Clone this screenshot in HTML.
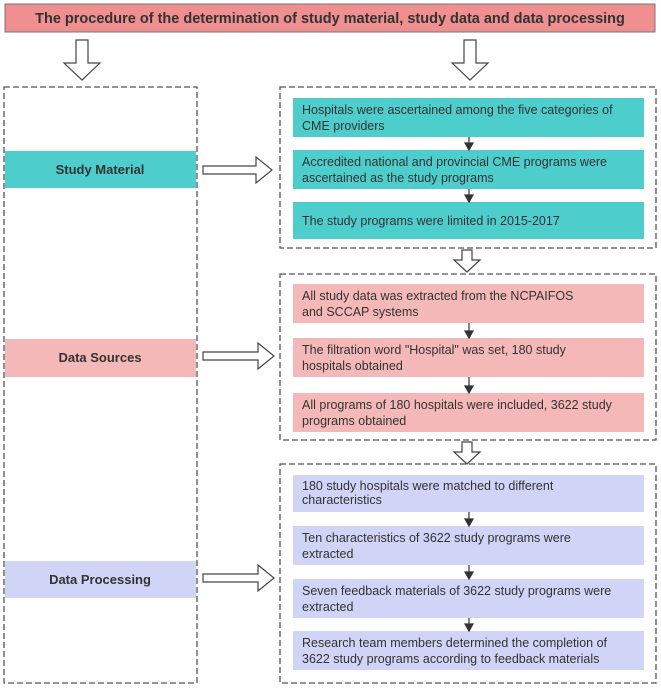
<!DOCTYPE html>
<html><head><meta charset="utf-8"><style>
body{margin:0;background:#fff}
svg text{font-family:"Liberation Sans","DejaVu Sans",sans-serif;fill:#333}
</style></head><body>
<svg width="661" height="687" viewBox="0 0 661 687" xmlns="http://www.w3.org/2000/svg">
<rect x="0" y="0" width="661" height="687" fill="#fff"/>
<rect x="5" y="4" width="650" height="28" fill="#ef8f8f" stroke="#777" stroke-width="1"/>
<text x="330" y="23" font-size="14.5" font-weight="bold" text-anchor="middle" fill="#222">The procedure of the determination of study material, study data and data processing</text>
<g fill="#fff" stroke="#444" stroke-width="1.2">
<path d="M76 40 H88 V63 H100 L82 80 L64 63 H76 Z"/>
<path d="M464 40 H476 V63 H488 L470 80 L452 63 H464 Z"/>
<path d="M462 250 H472 V260 H480 L467 272 L454 260 H462 Z"/>
<path d="M462 442 H472 V452 H480 L467 464 L454 452 H462 Z"/>
<path d="M203 165 H256 V157 H272 L256 184 V176 H203 Z" transform="translate(0,0)" visibility="hidden"/>
<path d="M203 166 H256 V157 L272 170 L256 183 V174 H203 Z"/>
<path d="M203 352 H258 V343 L274 356 L258 369 V360 H203 Z"/>
<path d="M203 574 H258 V565 L274 578 L258 591 V582 H203 Z"/>
</g>
<g fill="none" stroke="#555" stroke-width="1.3" stroke-dasharray="6,3">
<rect x="4" y="87" width="193" height="596"/>
<rect x="280" y="87" width="376" height="161"/>
<rect x="280" y="274" width="376" height="166"/>
<rect x="280" y="464" width="376" height="219"/>
</g>
<rect x="5" y="151" width="191" height="37" fill="#4ecdcd"/>
<text x="100" y="174" font-size="13" font-weight="bold" text-anchor="middle" fill="#222">Study Material</text>
<rect x="5" y="339" width="191" height="38" fill="#f4b8b8"/>
<text x="100" y="362" font-size="13" font-weight="bold" text-anchor="middle" fill="#222">Data Sources</text>
<rect x="5" y="561" width="191" height="37" fill="#d0d4f6"/>
<text x="100" y="584" font-size="13" font-weight="bold" text-anchor="middle" fill="#222">Data Processing</text>
<g font-size="12.5">
<rect x="293" y="98" width="351" height="39" fill="#4ecdcd"/>
<text x="302" y="114">Hospitals were ascertained among the five categories of</text>
<text x="302" y="130">CME providers</text>
<rect x="293" y="150" width="351" height="39" fill="#4ecdcd"/>
<text x="302" y="166">Accredited national and provincial CME programs were</text>
<text x="302" y="182">ascertained as the study programs</text>
<rect x="293" y="202" width="351" height="37" fill="#4ecdcd"/>
<text x="302" y="225">The study programs were limited in 2015-2017</text>

<rect x="293" y="284" width="351" height="39" fill="#f4b8b8"/>
<text x="302" y="300">All study data was extracted from the NCPAIFOS</text>
<text x="302" y="316">and SCCAP systems</text>
<rect x="293" y="338" width="351" height="39" fill="#f4b8b8"/>
<text x="302" y="354">The filtration word "Hospital" was set, 180 study</text>
<text x="302" y="370">hospitals obtained</text>
<rect x="293" y="393" width="351" height="39" fill="#f4b8b8"/>
<text x="302" y="409">All programs of 180 hospitals were included, 3622 study</text>
<text x="302" y="425">programs obtained</text>

<rect x="293" y="475" width="351" height="37" fill="#d0d4f6"/>
<text x="302" y="490">180 study hospitals were matched to different</text>
<text x="302" y="504">characteristics</text>
<rect x="293" y="526" width="351" height="39" fill="#d0d4f6"/>
<text x="302" y="542">Ten characteristics of 3622 study programs were</text>
<text x="302" y="558">extracted</text>
<rect x="293" y="579" width="351" height="39" fill="#d0d4f6"/>
<text x="302" y="595">Seven feedback materials of 3622 study programs were</text>
<text x="302" y="611">extracted</text>
<rect x="293" y="631" width="351" height="39" fill="#d0d4f6"/>
<text x="302" y="647">Research team members determined the completion of</text>
<text x="302" y="663">3622 study programs according to feedback materials</text>
</g>
<g stroke="#333" stroke-width="1.2" fill="#333">
<line x1="469" y1="137" x2="469" y2="144"/><path d="M465 143 H473 L469 150 Z"/>
<line x1="469" y1="189" x2="469" y2="196"/><path d="M465 195 H473 L469 202 Z"/>
<line x1="469" y1="323" x2="469" y2="332"/><path d="M465 331 H473 L469 338 Z"/>
<line x1="469" y1="377" x2="469" y2="387"/><path d="M465 386 H473 L469 393 Z"/>
<line x1="469" y1="512" x2="469" y2="520"/><path d="M465 519 H473 L469 526 Z"/>
<line x1="469" y1="565" x2="469" y2="573"/><path d="M465 572 H473 L469 579 Z"/>
<line x1="469" y1="618" x2="469" y2="625"/><path d="M465 624 H473 L469 631 Z"/>
</g>
</svg>
</body></html>
